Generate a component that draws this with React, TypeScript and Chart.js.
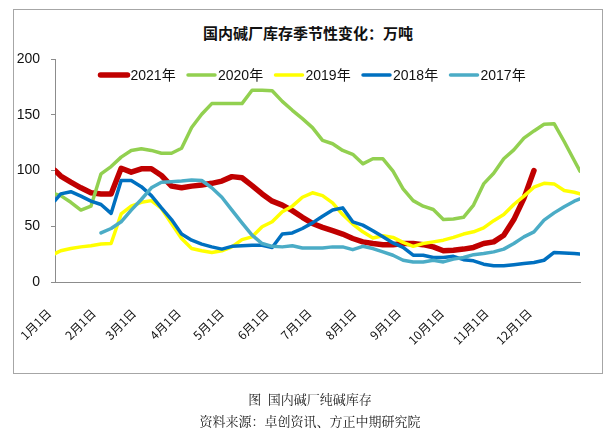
import React, { useEffect, useRef } from "react";
import { Chart, registerables } from "chart.js";

Chart.register(...registerables);

// x positions (day of year) of the weekly observations
const weekDays = [0, 4, 11, 18, 25, 32, 39, 46, 53, 60, 67, 74, 81, 88, 95, 102, 109, 116, 123, 130, 137, 144, 151, 158, 165, 172, 179, 186, 193, 200, 207, 214, 221, 228, 235, 242, 249, 256, 263, 270, 277, 284, 291, 298, 305, 312, 319, 326, 333, 340, 347, 354, 361, 365];

const monthDays = [0, 31, 59, 90, 120, 151, 181, 212, 243, 273, 304, 334];
const monthLabels = ["1月1日", "2月1日", "3月1日", "4月1日", "5月1日", "6月1日", "7月1日", "8月1日", "9月1日", "10月1日", "11月1日", "12月1日"];
const yTicks = [0, 50, 100, 150, 200];

const seriesNames = ["2021年", "2020年", "2019年", "2018年", "2017年"];
const seriesColors = ["#C00000", "#92D050", "#FFFF00", "#0070C0", "#4BACC6"];

const s2021 = [100, 95, 89.6, 84.5, 80, 79, 79, 102, 98.5, 101.5, 101.5, 95.5, 86, 84.5, 86, 87, 88.5, 90.5, 94.5, 93.5, 86.5, 79, 72.5, 69, 64, 58, 52.5, 49, 46, 43, 39, 36, 34.5, 33.5, 33.5, 34.5, 34.5, 33.5, 31.5, 28, 28.5, 29.5, 31, 34.5, 36, 42, 56, 75, 100, null, null, null, null, null];
const s2020 = [79, 77.5, 71.5, 64.5, 68, 97, 103.5, 112, 118, 119.5, 118, 115.5, 115.5, 120, 138.5, 150.5, 160, 160, 160, 160, 172, 172, 171.5, 162, 154, 146.5, 138.5, 127, 124, 118, 114.5, 106, 110.5, 110.5, 99.5, 83.5, 73, 68, 65, 56, 56.5, 58, 69, 88, 97.5, 110.5, 118.5, 129, 135.5, 141.5, 142, 126, 109, 99.5];
const s2019 = [25.5, 28, 30, 31.5, 32.5, 34, 34.5, 61, 68, 71.5, 73, 66, 52.5, 39, 30, 28, 26.5, 28, 31.5, 38, 40.5, 49.5, 54, 63, 68, 76, 80, 77.5, 71, 60.5, 52, 45, 39.5, 41.5, 40, 35.5, 32, 34.5, 36, 37.5, 40, 43, 45, 48.5, 55, 60.5, 69.5, 77, 85, 88.5, 88, 82, 80.5, 79];
const s2018 = [73, 79, 81, 77, 72.5, 69.5, 61.5, 91, 91, 85.5, 77.5, 66.5, 56, 43, 37.5, 34, 31.5, 29.5, 32, 32.5, 33, 33, 31, 43, 44, 48, 53, 59, 64.5, 66.5, 54, 51, 46, 40.5, 35, 31, 24, 24, 22, 22, 23, 20, 19, 16, 14.5, 14.5, 15.5, 16.5, 17.5, 19.5, 26.5, 26, 25.5, 25];
const s2017 = [null, null, null, null, null, 44, 48, 54, 64.5, 74, 84.5, 89.5, 90, 90.5, 91.5, 91, 84.5, 76, 64.5, 53, 42, 34.5, 32, 31.5, 32.5, 30.5, 30.5, 30.5, 31.5, 31.5, 29, 32, 30, 27, 24, 19.5, 18, 18, 19.5, 18, 20.5, 22, 24.5, 25.5, 27, 29.5, 34.5, 40.5, 45, 55.5, 62, 67.5, 72.5, 74.5];

const allSeries = [s2021, s2020, s2019, s2018, s2017];
const lineWidths = [5.5, 3.5, 3.5, 3.5, 3.5];

const legendPlugin = {
  id: "insideLegend",
  afterDraw(chart: any) {
    const ctx = chart.ctx;
    ctx.save();
    const startX = 98.5;
    const step = 87.5;
    const y = 75;
    chart.data.datasets.forEach((ds: any, i: number) => {
      const x0 = startX + i * step;
      ctx.beginPath();
      ctx.strokeStyle = ds.borderColor;
      ctx.lineWidth = ds.borderWidth;
      ctx.lineCap = "round";
      ctx.moveTo(x0 + 2, y);
      ctx.lineTo(x0 + 29, y);
      ctx.stroke();
      ctx.fillStyle = "#111";
      ctx.font = "14px 'Liberation Sans Narrow', 'Liberation Sans', 'Noto Sans CJK SC'";
      ctx.textBaseline = "middle";
      ctx.textAlign = "left";
      ctx.fillText(ds.label, x0 + 32, y + 1);
    });
    ctx.restore();
  },
};

export default function App() {
  const ref = useRef<HTMLCanvasElement | null>(null);

  useEffect(() => {
    if (!ref.current) return;
    const datasets = allSeries.map((vals, i) => ({
      label: seriesNames[i],
      data: vals
        .map((v, k) => (v === null ? null : { x: weekDays[k], y: v }))
        .filter((p) => p !== null),
      borderColor: seriesColors[i],
      backgroundColor: seriesColors[i],
      borderWidth: lineWidths[i],
      pointRadius: 0,
      tension: 0,
      borderJoinStyle: "round" as const,
      borderCapStyle: "round" as const,
      fill: false,
      order: 4 - i,
    }));

    const chart = new Chart(ref.current, {
      type: "line",
      data: { datasets },
      options: {
        animation: false,
        responsive: false,
        devicePixelRatio: 1,
        layout: { padding: { left: 0, top: 59, right: 31, bottom: 0 } },
        plugins: {
          legend: { display: false },
          title: { display: false },
          tooltip: { enabled: false },
        },
        scales: {
          x: {
            type: "linear",
            min: 0,
            max: 365,
            grid: { display: false, drawTicks: false },
            border: { display: true, color: "#8c8c8c", width: 1 },
            afterBuildTicks: (scale: any) => {
              scale.ticks = monthDays.map((d) => ({ value: d }));
            },
            afterFit: (scale: any) => {
              scale.height = 149;
            },
            ticks: {
              autoSkip: false,
              minRotation: 45,
              maxRotation: 45,
              padding: 24,
              labelOffset: -6,
              color: "#111",
              font: { family: "'Noto Sans CJK SC'", size: 12 },
              callback: (_v: any, idx: number) => monthLabels[idx],
            },
          },
          y: {
            min: 0,
            max: 200,
            afterBuildTicks: (scale: any) => {
              scale.ticks = yTicks.map((v) => ({ value: v }));
            },
            afterFit: (scale: any) => {
              scale.width = 55;
            },
            grid: {
              display: true,
              drawOnChartArea: false,
              drawTicks: true,
              tickLength: 4,
              color: "#8c8c8c",
            },
            border: { display: true, color: "#8c8c8c", width: 1 },
            ticks: {
              padding: 11,
              color: "#111",
              font: { family: "'Liberation Sans'", size: 14 },
            },
          },
        },
      },
      plugins: [legendPlugin],
    });
    return () => chart.destroy();
  }, []);

  return (
    <div>
      <div
        style={{
          position: "absolute",
          left: 13,
          top: 9,
          width: 590,
          height: 365,
          border: "1px solid #a6a6a6",
          boxSizing: "border-box",
        }}
      />
      <div
        style={{
          position: "absolute",
          left: 13,
          top: 24,
          width: 590,
          textAlign: "center",
          font: "bold 15px 'Noto Sans CJK SC'",
          lineHeight: "18px",
          color: "#111",
        }}
      >
        国内碱厂库存季节性变化：万吨
      </div>
      <canvas
        ref={ref}
        width={611}
        height={431}
        style={{ position: "absolute", left: 0, top: 0, width: 611, height: 431 }}
      />
      <div
        style={{
          position: "absolute",
          left: 0,
          top: 390,
          width: 620,
          textAlign: "center",
          font: "13px 'Noto Serif CJK SC', 'Noto Sans CJK SC'",
          lineHeight: "18px",
          color: "#222",
        }}
      >
        图&nbsp;&nbsp;国内碱厂纯碱库存
      </div>
      <div
        style={{
          position: "absolute",
          left: 0,
          top: 412,
          width: 620,
          textAlign: "center",
          font: "13px 'Noto Serif CJK SC', 'Noto Sans CJK SC'",
          lineHeight: "18px",
          color: "#222",
        }}
      >
        资料来源：卓创资讯、方正中期研究院
      </div>
    </div>
  );
}
